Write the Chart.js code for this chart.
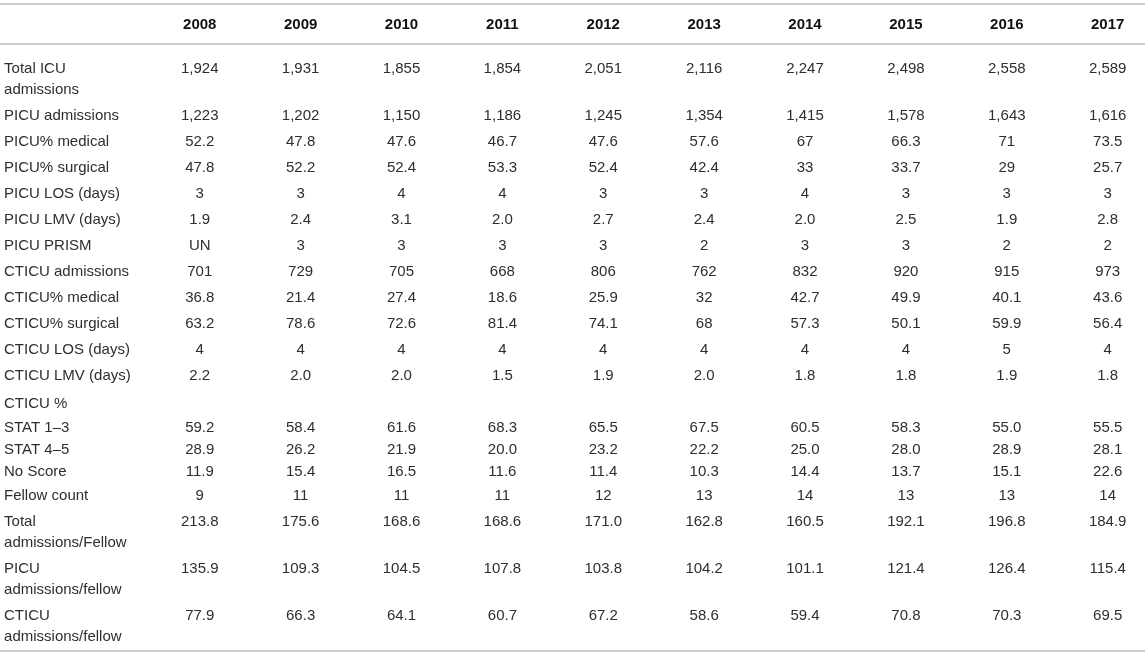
<!DOCTYPE html>
<html>
<head>
<meta charset="utf-8">
<title>ICU admissions per fellow 2008-2017</title>
<script src="https://cdn.jsdelivr.net/npm/chart.js@4/dist/chart.umd.min.js"></script>
<style>
  html, body { margin: 0; padding: 0; background: #fff; }
  #wrap { position: relative; width: 1145px; height: 654px; }
</style>
</head>
<body>
<div id="wrap"><canvas id="table"></canvas></div>
<script>
// Table data
const years = ["2008", "2009", "2010", "2011", "2012", "2013", "2014", "2015", "2016", "2017"]

const totalIcuAdmissions = ["1,924", "1,931", "1,855", "1,854", "2,051", "2,116", "2,247", "2,498", "2,558", "2,589"]
const picuAdmissions = ["1,223", "1,202", "1,150", "1,186", "1,245", "1,354", "1,415", "1,578", "1,643", "1,616"]
const picuMedical = ["52.2", "47.8", "47.6", "46.7", "47.6", "57.6", "67", "66.3", "71", "73.5"]
const picuSurgical = ["47.8", "52.2", "52.4", "53.3", "52.4", "42.4", "33", "33.7", "29", "25.7"]
const picuLos = ["3", "3", "4", "4", "3", "3", "4", "3", "3", "3"]
const picuLmv = ["1.9", "2.4", "3.1", "2.0", "2.7", "2.4", "2.0", "2.5", "1.9", "2.8"]
const picuPrism = ["UN", "3", "3", "3", "3", "2", "3", "3", "2", "2"]
const cticuAdmissions = ["701", "729", "705", "668", "806", "762", "832", "920", "915", "973"]
const cticuMedical = ["36.8", "21.4", "27.4", "18.6", "25.9", "32", "42.7", "49.9", "40.1", "43.6"]
const cticuSurgical = ["63.2", "78.6", "72.6", "81.4", "74.1", "68", "57.3", "50.1", "59.9", "56.4"]
const cticuLos = ["4", "4", "4", "4", "4", "4", "4", "4", "5", "4"]
const cticuLmv = ["2.2", "2.0", "2.0", "1.5", "1.9", "2.0", "1.8", "1.8", "1.9", "1.8"]
const stat13 = ["59.2", "58.4", "61.6", "68.3", "65.5", "67.5", "60.5", "58.3", "55.0", "55.5"]
const stat45 = ["28.9", "26.2", "21.9", "20.0", "23.2", "22.2", "25.0", "28.0", "28.9", "28.1"]
const noScore = ["11.9", "15.4", "16.5", "11.6", "11.4", "10.3", "14.4", "13.7", "15.1", "22.6"]
const fellowCount = ["9", "11", "11", "11", "12", "13", "14", "13", "13", "14"]
const totalPerFellow = ["213.8", "175.6", "168.6", "168.6", "171.0", "162.8", "160.5", "192.1", "196.8", "184.9"]
const picuPerFellow = ["135.9", "109.3", "104.5", "107.8", "103.8", "104.2", "101.1", "121.4", "126.4", "115.4"]
const cticuPerFellow = ["77.9", "66.3", "64.1", "60.7", "67.2", "58.6", "59.4", "70.8", "70.3", "69.5"]

const rowLabels = [
  ["Total ICU", "admissions"],
  ["PICU admissions"],
  ["PICU% medical"],
  ["PICU% surgical"],
  ["PICU LOS (days)"],
  ["PICU LMV (days)"],
  ["PICU PRISM"],
  ["CTICU admissions"],
  ["CTICU% medical"],
  ["CTICU% surgical"],
  ["CTICU LOS (days)"],
  ["CTICU LMV (days)"],
  ["CTICU %"],
  ["STAT 1\u20133"],
  ["STAT 4\u20135"],
  ["No Score"],
  ["Fellow count"],
  ["Total", "admissions/Fellow"],
  ["PICU", "admissions/fellow"],
  ["CTICU", "admissions/fellow"],
]
const rowValues = [
  totalIcuAdmissions, picuAdmissions, picuMedical, picuSurgical, picuLos, picuLmv, picuPrism,
  cticuAdmissions, cticuMedical, cticuSurgical, cticuLos, cticuLmv,
  null, stat13, stat45, noScore,
  fellowCount, totalPerFellow, picuPerFellow, cticuPerFellow,
]
// sub rows listed tightly under the "CTICU %" heading
const compactRows = ["STAT 1\u20133", "STAT 4\u20135", "No Score"]

// Layout (units of the y scale)
const TABLE_HEIGHT = 654
const TOP_RULE = 4
const HEADER_HEIGHT = 40
const BODY_PAD = 11
const LINE = 21
const PAD = 2.5
const PAD_COMPACT = 0.5
const GROUP_GAP = 2
const END_PAD = 2

const X_MIN = -1.98
const X_MAX = 9.37
const LABEL_X = -1.94

const FONT = "'Liberation Sans', Arial, Helvetica, sans-serif"
const RULE_COLOR = "#bcbcbc"

// Work out the row positions from the number of lines in each label
function layoutRows() {
  const headerRule = TOP_RULE + HEADER_HEIGHT
  let top = headerRule + BODY_PAD
  const rows = rowLabels.map((label, i) => {
    const compact = compactRows.includes(label[0])
    const pad = compact ? PAD_COMPACT : PAD
    if (rowValues[i] === null) top += GROUP_GAP
    const center = top + pad + LINE / 2
    top += pad * 2 + label.length * LINE
    return { label, values: rowValues[i], center }
  })
  return {
    headerCenter: TOP_RULE + HEADER_HEIGHT / 2,
    headerRule,
    rows,
    bottomRule: top + END_PAD,
  }
}

const layout = layoutRows()

const headerPoints = years.map((year, i) => ({ x: i, y: layout.headerCenter, lines: [year] }))
const labelPoints = layout.rows.map((row) => ({ x: LABEL_X, y: row.center, lines: row.label }))
const cellPoints = []
layout.rows.forEach((row) => {
  if (!row.values) return
  row.values.forEach((v, i) => cellPoints.push({ x: i, y: row.center, lines: [v] }))
})

// Draw the rules and the cell texts at the positions the scales give
const tablePlugin = {
  id: "tableText",
  beforeDatasetsDraw(chart) {
    const { ctx, scales } = chart
    const x = scales.x
    const y = scales.y
    ctx.save()
    ctx.strokeStyle = RULE_COLOR
    ctx.lineWidth = 1.6
    ;[TOP_RULE, layout.headerRule, layout.bottomRule].forEach((v) => {
      const py = y.getPixelForValue(v)
      ctx.beginPath()
      ctx.moveTo(x.getPixelForValue(X_MIN), py)
      ctx.lineTo(x.getPixelForValue(X_MAX), py)
      ctx.stroke()
    })
    ctx.restore()
  },
  afterDatasetsDraw(chart) {
    const { ctx } = chart
    chart.data.datasets.forEach((dataset, di) => {
      const meta = chart.getDatasetMeta(di)
      ctx.save()
      ctx.font = dataset.textFont
      ctx.fillStyle = dataset.textColor
      ctx.textAlign = dataset.textAlign
      ctx.textBaseline = "middle"
      meta.data.forEach((el, i) => {
        const lines = dataset.data[i].lines
        lines.forEach((line, li) => ctx.fillText(line, el.x, el.y + 0.5 + li * LINE))
      })
      ctx.restore()
    })
  },
}

const common = { pointRadius: 0, pointHoverRadius: 0, showLine: false, clip: false }

new Chart(document.getElementById("table"), {
  type: "scatter",
  data: {
    datasets: [
      { ...common, label: "Year", data: headerPoints, textFont: "bold 15px " + FONT, textColor: "#111", textAlign: "center" },
      { ...common, label: "Measure", data: labelPoints, textFont: "15px " + FONT, textColor: "#2e2e2e", textAlign: "left" },
      { ...common, label: "Value", data: cellPoints, textFont: "15px " + FONT, textColor: "#2e2e2e", textAlign: "center" },
    ],
  },
  options: {
    responsive: true,
    maintainAspectRatio: false,
    animation: false,
    events: [],
    layout: { padding: 0 },
    plugins: { legend: { display: false }, tooltip: { enabled: false } },
    scales: {
      x: { type: "linear", display: false, min: X_MIN, max: X_MAX },
      y: { type: "linear", display: false, reverse: true, min: 0, max: TABLE_HEIGHT },
    },
  },
  plugins: [tablePlugin],
})
</script>
</body>
</html>
